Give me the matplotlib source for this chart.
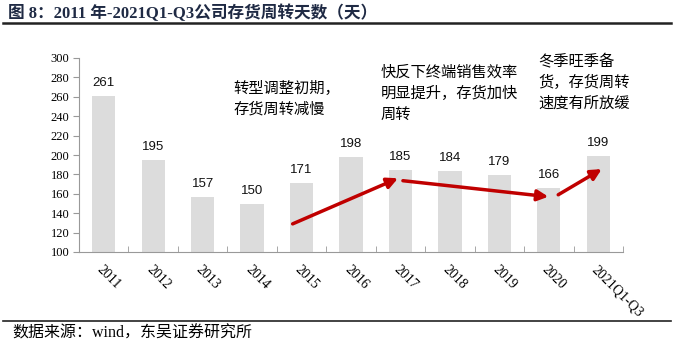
import matplotlib
matplotlib.use("Agg")
import matplotlib.pyplot as plt
import numpy as np

categories = ["2011", "2012", "2013", "2014", "2015", "2016", "2017", "2018", "2019", "2020", "2021Q1-Q3"]
values = [261, 195, 157, 150, 171, 198, 185, 184, 179, 166, 199]
yticks = [100, 120, 140, 160, 180, 200, 220, 240, 260, 280, 300]

# arrows: (start_index, start_value, end_index, end_value)
arrows = [(3.82, 129, 5.95, 176), (6.05, 173.5, 8.99, 157), (9.19, 159, 10.07, 185.5)]

notes = [
    "转型调整初期，\n存货周转减慢",
    "快反下终端销售效率\n明显提升，存货加快\n周转",
    "冬季旺季备\n货，存货周转\n速度有所放缓",
]

SERIF = ["Liberation Serif", "Noto Sans CJK SC"]
CJK = ["Noto Sans CJK SC", "DejaVu Sans"]

fig = plt.figure(figsize=(6.78, 3.54), dpi=100)
ax = fig.add_axes([79/678, 1-252/354, (623-79)/678, (252-58)/354])

x = np.arange(len(categories))
ax.bar(x, [v - 100 for v in values], bottom=100, width=0.47, color="#DCDCDC", zorder=2)
for xi, v in zip(x, values):
    ax.annotate(str(v), (xi, v), xytext=(0, 5), textcoords="offset points",
                ha="center", va="bottom", fontsize=9.5, family="Liberation Sans", color="#111111")

ax.set_xlim(-0.5, len(categories) - 0.5)
ax.set_ylim(100, 300)
ax.set_yticks(yticks)
ax.set_yticklabels([str(t) for t in yticks], family="Liberation Serif", fontsize=9)
ax.set_xticks(x)
ax.set_xticklabels(categories, rotation=-45, ha="left", va="top", rotation_mode="anchor",
                   family="Liberation Serif", fontsize=10)
ax.tick_params(axis="x", length=0, pad=8)
ax.set_xticks(np.arange(-0.5, len(categories)), minor=True)
ax.tick_params(axis="x", which="minor", direction="in", length=4, color="#999999")
ax.tick_params(axis="y", direction="out", length=4, color="#999999", pad=3)
for s in ["top", "right"]:
    ax.spines[s].set_visible(False)
for s in ["left", "bottom"]:
    ax.spines[s].set_color("#999999")
    ax.spines[s].set_linewidth(0.8)

for (x0, y0, x1, y1) in arrows:
    ax.annotate("", xy=(x1, y1), xytext=(x0, y0),
                arrowprops=dict(arrowstyle="-|>", color="#C00000", lw=2.5, mutation_scale=16,
                                shrinkA=0, shrinkB=0), zorder=5)

def px(xp, yp):
    return xp / 678, 1 - yp / 354

fig.text(*px(233, 80), notes[0], family=CJK, fontsize=11, va="top", ha="left", linespacing=1.3)
fig.text(*px(381, 64), notes[1], family=CJK, fontsize=11, va="top", ha="left", linespacing=1.3)
fig.text(*px(538, 53), notes[2], family=CJK, fontsize=11, va="top", ha="left", linespacing=1.3)

fig.text(*px(8, 13), "图 8：2011 年-2021Q1-Q3公司存货周转天数（天）", family=SERIF, fontsize=12,
         fontweight="bold", va="center", ha="left", color="#1F2A44")
fig.add_artist(plt.Line2D([0.005, 0.99], [1 - 23/354, 1 - 23/354], color="#222222", lw=1.8))
fig.add_artist(plt.Line2D([0.005, 0.99], [1 - 321/354, 1 - 321/354], color="#222222", lw=1.2))
fig.text(*px(12, 334), "数据来源：wind，东吴证券研究所", family=SERIF, fontsize=11.5, va="center", ha="left")

fig.savefig("out.png", dpi=100)
